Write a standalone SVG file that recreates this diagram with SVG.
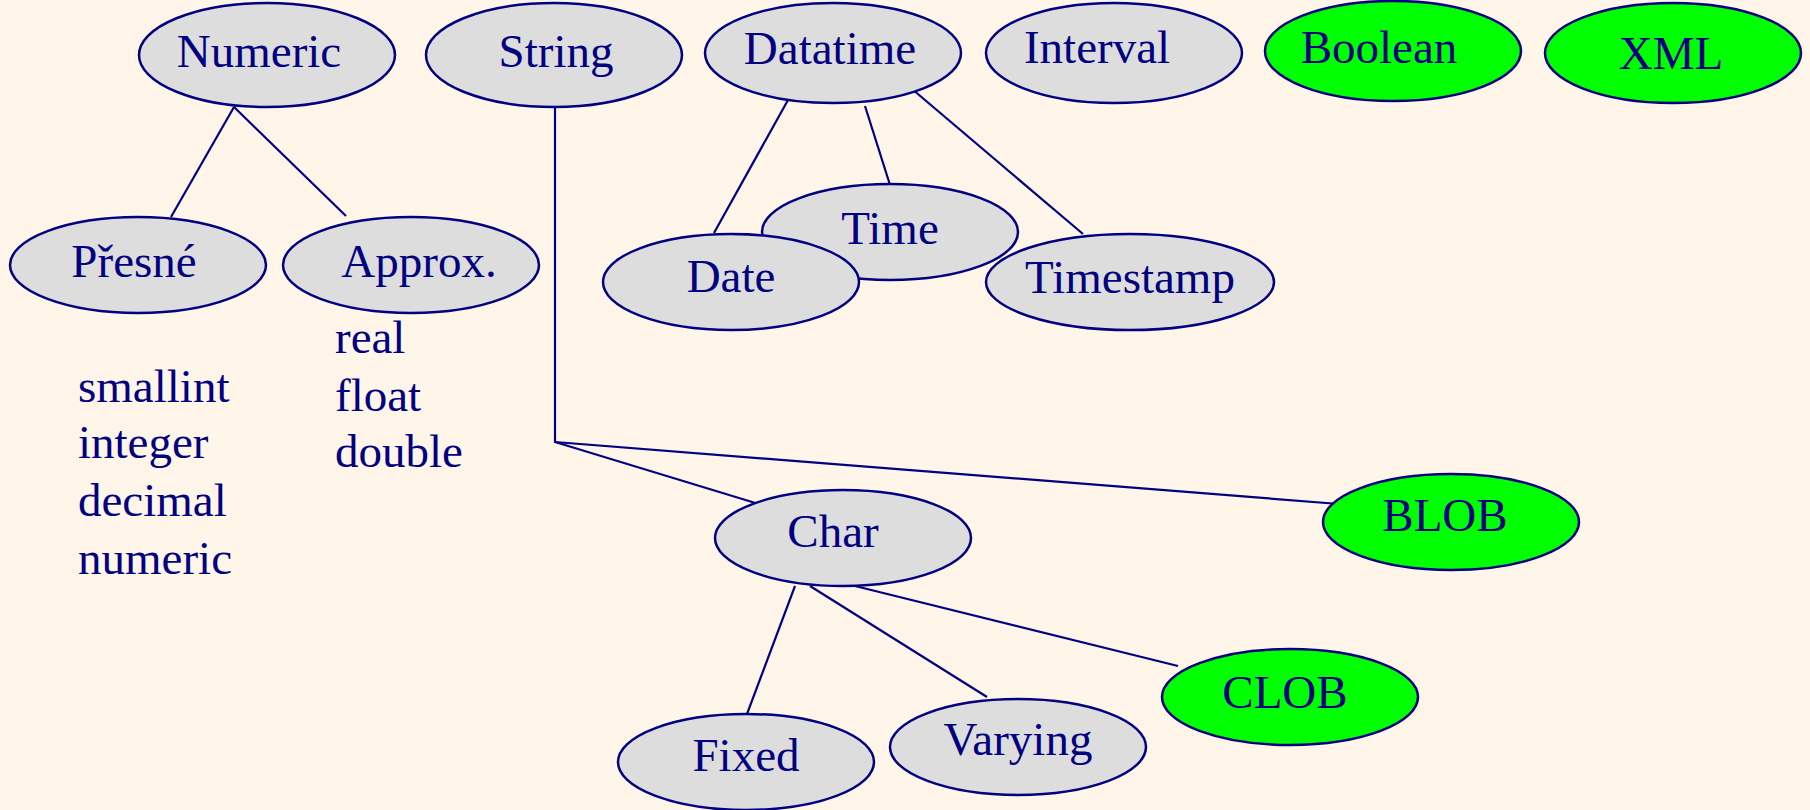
<svg xmlns="http://www.w3.org/2000/svg" width="1810" height="810" viewBox="0 0 1810 810">
<style>
.n ellipse{fill:#DDDDDD;stroke:#000080;stroke-width:2.5}
.g ellipse{fill:#00FF00;stroke:#000080;stroke-width:2.5}
text{font-family:"Liberation Serif","Times New Roman",serif;font-size:47px;fill:#000080}
.c{text-anchor:middle}
#connectors line, #connectors polyline{stroke:#000080;stroke-width:2.2;fill:none}
</style>
<rect width="1810" height="810" fill="#FFF5E9"/>
<g id="connectors">
<line x1="234" y1="107" x2="171" y2="217"/>
<line x1="234" y1="107" x2="346" y2="216"/>
<polyline points="555,107 555,442 762,505"/>
<line x1="555" y1="442" x2="1339" y2="504"/>
<line x1="788" y1="100" x2="714" y2="233"/>
<line x1="865" y1="106" x2="890" y2="185"/>
<line x1="912" y1="89" x2="1083" y2="234"/>
<line x1="795" y1="586" x2="747" y2="714"/>
<line x1="810" y1="586" x2="987" y2="697"/>
<line x1="855" y1="586" x2="1178" y2="666"/>
</g>
<g id="numeric" class="n"><ellipse cx="267" cy="55" rx="128" ry="52"/><text class="c" x="259" y="67">Numeric</text></g>
<g id="string" class="n"><ellipse cx="554" cy="55" rx="128" ry="52"/><text class="c" x="556" y="67">String</text></g>
<g id="datatime" class="n"><ellipse cx="833" cy="53" rx="128" ry="50"/><text class="c" x="830" y="64">Datatime</text></g>
<g id="interval" class="n"><ellipse cx="1114" cy="53" rx="128" ry="50"/><text class="c" x="1097" y="63">Interval</text></g>
<g id="boolean" class="g"><ellipse cx="1393" cy="51" rx="128" ry="50"/><text class="c" x="1379" y="63">Boolean</text></g>
<g id="xml" class="g"><ellipse cx="1673" cy="53" rx="128" ry="50"/><text class="c" x="1671" y="69">XML</text></g>
<g id="presne" class="n"><ellipse cx="138" cy="265" rx="128" ry="48"/><text class="c" x="134" y="277">Přesné</text></g>
<g id="approx" class="n"><ellipse cx="411" cy="265" rx="128" ry="48"/><text class="c" x="419" y="277">Approx.</text></g>
<g id="time" class="n"><ellipse cx="890" cy="232" rx="128" ry="48"/><text class="c" x="890" y="244">Time</text></g>
<g id="date" class="n"><ellipse cx="731" cy="282" rx="128" ry="48"/><text class="c" x="731" y="292">Date</text></g>
<g id="timestamp" class="n"><ellipse cx="1130" cy="282" rx="144" ry="48"/><text class="c" x="1130" y="293">Timestamp</text></g>
<g id="char" class="n"><ellipse cx="843" cy="538" rx="128" ry="48"/><text class="c" x="833" y="547">Char</text></g>
<g id="blob" class="g"><ellipse cx="1451" cy="522" rx="128" ry="48"/><text class="c" x="1445" y="531">BLOB</text></g>
<g id="clob" class="g"><ellipse cx="1290" cy="697" rx="128" ry="48"/><text class="c" x="1285" y="708">CLOB</text></g>
<g id="fixed" class="n"><ellipse cx="746" cy="762" rx="128" ry="48"/><text class="c" x="746" y="771">Fixed</text></g>
<g id="varying" class="n"><ellipse cx="1018" cy="747" rx="128" ry="48"/><text class="c" x="1018" y="755">Varying</text></g>
<g id="exact-list">
<text x="78" y="402">smallint</text>
<text x="78" y="458">integer</text>
<text x="78" y="516">decimal</text>
<text x="78" y="574">numeric</text>
</g>
<g id="approx-list">
<text x="335" y="353">real</text>
<text x="335" y="411">float</text>
<text x="335" y="467">double</text>
</g>
</svg>
